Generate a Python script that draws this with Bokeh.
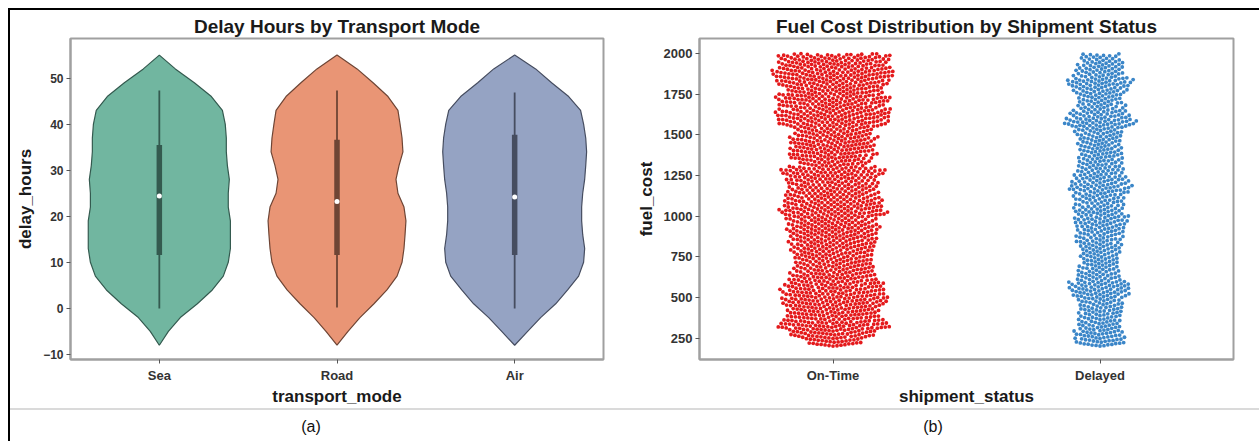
import numpy as np
from bokeh.plotting import figure
from bokeh.models import FixedTicker, Div
from bokeh.layouts import row, column
from bokeh.embed import file_html
from bokeh.resources import INLINE

# ---------------- data: (a) violins ----------------
modes = ["Sea", "Road", "Air"]
violin_y = [-8, -5, -2, 1, 4, 7, 10, 13, 16, 19, 22, 25, 28, 31, 34, 37, 40, 43, 46, 49, 52, 55]
sea_halfwidth = [0, .051, .118, .214, .298, .360, .388, .400, .400, .400, .388, .388, .394, .383, .377, .377, .371, .355, .293, .197, .090, 0]
road_halfwidth = [0, .062, .129, .208, .281, .338, .366, .377, .383, .388, .377, .343, .332, .349, .371, .366, .355, .343, .287, .203, .113, 0]
air_halfwidth = [0, .073, .146, .231, .298, .360, .388, .394, .383, .377, .377, .383, .394, .400, .405, .400, .388, .371, .304, .208, .118, 0]
whisker_low = [0.0, 0.2, 0.0]
whisker_high = [47.3, 47.3, 46.9]
q1 = [11.6, 11.6, 11.6]
q3 = [35.5, 36.6, 37.7]
median = [24.4, 23.2, 24.2]

# ---------------- data: (b) swarm ----------------
statuses = ["On-Time", "Delayed"]
fuel_bin_low = list(range(200, 2000, 50))
fuel_bin_width = 50
ontime_counts = [30, 45, 58, 50, 49, 56, 53, 51, 45, 42, 40, 42, 45, 46, 49, 45, 55, 51, 48, 45,
                 46, 53, 37, 45, 45, 45, 40, 56, 60, 54, 59, 51, 58, 64, 58, 58]
delayed_counts = [26, 26, 23, 22, 23, 23, 30, 32, 23, 21, 20, 21, 23, 23, 25, 28, 26, 24, 26, 32,
                  28, 24, 23, 23, 23, 23, 25, 37, 30, 24, 23, 28, 34, 25, 24, 20]

FONT = "Liberation Sans"
violin_fill = ["#71b6a0", "#e99575", "#95a3c3"]
violin_dark = ["#345a4f", "#6e4535", "#464d60"]
swarm_colors = ["#e41a1c", "#3b86c8"]


def style(p, ylabel, xlabel, ytick_size):
    p.title.align = "center"
    p.title.text_font = FONT
    p.title.text_font_size = "19px"
    p.title.text_font_style = "bold"
    p.title.text_color = "#1a1a1a"
    p.title.standoff = 3
    p.xgrid.visible = False
    p.ygrid.visible = False
    p.outline_line_color = "#a0a0a0"
    p.outline_line_width = 2
    for ax in (p.xaxis, p.yaxis):
        ax.axis_line_color = "#a0a0a0"
        ax.axis_line_width = 2
        ax.major_tick_line_color = "#555555"
        ax.major_tick_out = 4
        ax.major_tick_in = 0
        ax.minor_tick_line_color = None
        ax.major_label_text_font = FONT
        ax.major_label_text_font_style = "bold"
        ax.major_label_text_color = "#333333"
        ax.axis_label_text_font = FONT
        ax.axis_label_text_font_style = "bold"
        ax.axis_label_text_font_size = "17px"
        ax.axis_label_text_color = "#1a1a1a"
    p.xaxis.major_label_text_font_size = "13px"
    p.xaxis.major_label_standoff = 4
    p.xaxis.axis_label_standoff = 1
    p.yaxis.major_label_text_font_size = ytick_size
    p.yaxis.major_label_standoff = 3
    p.yaxis.axis_label_standoff = 5
    p.xaxis.axis_label = xlabel
    p.yaxis.axis_label = ylabel


# ---------------- figure (a) ----------------
p1 = figure(width=620, height=398, x_range=(-0.5, 2.5), y_range=(-11.1, 58.6),
            output_backend="svg", toolbar_location=None,
            min_border_left=60, min_border_right=27, min_border_top=28, min_border_bottom=45,
            title="Delay Hours by Transport Mode")
style(p1, "delay_hours", "transport_mode", "12px")
p1.xaxis.ticker = FixedTicker(ticks=[0, 1, 2])
p1.xaxis.major_label_overrides = {i: m for i, m in enumerate(modes)}
p1.yaxis.ticker = FixedTicker(ticks=[-10, 0, 10, 20, 30, 40, 50])

halfwidths = [sea_halfwidth, road_halfwidth, air_halfwidth]
vy = np.array(violin_y, dtype=float)
for i, hw in enumerate(halfwidths):
    hw = np.array(hw)
    xs = np.concatenate([i - hw, (i + hw)[::-1]])
    ys = np.concatenate([vy, vy[::-1]])
    p1.patch(xs, ys, fill_color=violin_fill[i], line_color=violin_dark[i], line_width=1.2)
    p1.segment(x0=[i], y0=[whisker_low[i]], x1=[i], y1=[whisker_high[i]],
               line_color=violin_dark[i], line_width=1.8)
    p1.segment(x0=[i], y0=[q1[i]], x1=[i], y1=[q3[i]],
               line_color=violin_dark[i], line_width=5.5)
    p1.scatter([i], [median[i]], size=5, fill_color="white", line_color=None)

# ---------------- figure (b) ----------------
p2 = figure(width=629, height=398, x_range=(-0.5, 1.5), y_range=(118, 2093),
            output_backend="svg", toolbar_location=None,
            min_border_left=69, min_border_right=26, min_border_top=28, min_border_bottom=45,
            title="Fuel Cost Distribution by Shipment Status")
style(p2, "fuel_cost", "shipment_status", "13px")
p2.xaxis.ticker = FixedTicker(ticks=[0, 1])
p2.xaxis.major_label_overrides = {i: s for i, s in enumerate(statuses)}
p2.yaxis.ticker = FixedTicker(ticks=list(range(250, 2001, 250)))

frame_w = 629 - 69 - 26
frame_h = 398 - 28 - 45
px_x = frame_w / 2.0
px_y = frame_h / (2093 - 118)
DOT = 4.0


def expand(counts):
    vals = []
    for lo, n in zip(fuel_bin_low, counts):
        for k in range(n):
            vals.append(lo + (k + 0.5) * fuel_bin_width / n)
    return np.array(vals)


def beeswarm(values):
    ys = np.sort(values) * px_y
    xs = np.zeros(len(ys))
    d2 = DOT * DOT
    start = 0
    for i in range(len(ys)):
        y = ys[i]
        while ys[start] < y - DOT:
            start += 1
        nx = xs[start:i]
        dy = y - ys[start:i]
        h = np.sqrt(np.maximum(d2 - dy * dy, 0.0))
        cands = np.concatenate([[0.0], nx + h, nx - h])
        cands = cands[np.argsort(np.abs(cands), kind="stable")]
        for c in cands:
            if np.all((c - nx) ** 2 + dy * dy >= d2 - 1e-6):
                xs[i] = c
                break
    return xs / px_x, ys / px_y


for i, counts in enumerate([ontime_counts, delayed_counts]):
    vals = expand(counts)
    ox, oy = beeswarm(vals)
    p2.scatter(i + ox, oy, size=3.8, fill_color=swarm_colors[i], line_color=None)

# ---------------- page frame ----------------
top_line = Div(text="", width=1251, height=2, margin=0, styles={"background-color": "#000000"})
left_line = Div(text="", width=2, height=431, margin=0, styles={"background-color": "#000000"})
sep_line = Div(text="", width=1249, height=2, margin=0, styles={"background-color": "#dadada"})
cap_html = (
    '<div style="position:relative;width:1249px;height:31px;font-family:\'Liberation Sans\';'
    'font-size:16px;color:#111;">'
    '<span style="position:absolute;left:301px;top:6px;transform:translateX(-50%);">(a)</span>'
    '<span style="position:absolute;left:923px;top:6px;transform:translateX(-50%);">(b)</span>'
    '</div>'
)
captions = Div(text=cap_html, width=1249, height=31, margin=0)

layout = column(top_line,
                row(left_line, column(row(p1, p2), sep_line, captions)),
                margin=(8, 0, 0, 8))

open("out.html", "w").write(file_html(layout, INLINE))
